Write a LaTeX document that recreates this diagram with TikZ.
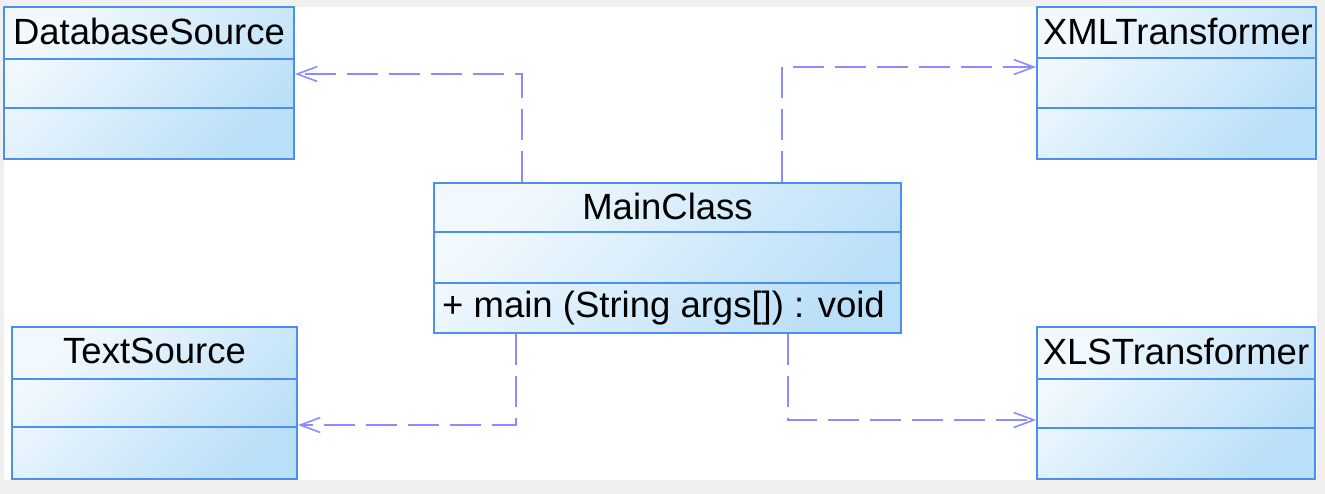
\documentclass[tikz,border=0pt]{standalone}
\usepackage{fontspec}
\setmainfont{Liberation Sans}
\usetikzlibrary{arrows.meta}
\definecolor{bordercol}{HTML}{4A90EC}
\definecolor{linecol}{HTML}{8C8CFF}
\definecolor{fillA}{HTML}{F2F9FE}
\definecolor{fillB}{HTML}{BADFF8}
\definecolor{bgcol}{HTML}{F0F0F0}
\tikzset{
  classbox/.style={rectangle, draw=bordercol, line width=2pt, inner sep=0pt,
    top color=fillA, bottom color=fillB, shading angle=45},
  divider/.style={draw=bordercol, line width=2pt},
  title/.style={font=\fontsize{36.5}{40}\selectfont, inner sep=0pt},
  oper/.style={font=\fontsize{36.5}{40}\selectfont, inner sep=0pt, anchor=base west},
  dep/.style={draw=linecol, line width=2pt, dash pattern=on 31pt off 11pt,
    -{Straight Barb[length=20pt,width=15pt,line width=1.6pt]}}
}
\begin{document}
\begin{tikzpicture}[x=1pt,y=-1pt]
\fill[bgcol] (0,0) rectangle (1325,494);
\fill[white] (4,7) rectangle (1317,480);
\useasboundingbox (0,0) rectangle (1325,494);

% class boxes
\node[classbox, minimum width=290pt, minimum height=152pt] (db) at (149,83) {};
\node[classbox, minimum width=279pt, minimum height=152pt] (xml) at (1176.5,83) {};
\node[classbox, minimum width=285pt, minimum height=152pt] (ts) at (154.5,403) {};
\node[classbox, minimum width=278pt, minimum height=152pt] (xls) at (1176,403) {};
\node[classbox, minimum width=467pt, minimum height=150pt] (main) at (667.5,258) {};

% dividers
\draw[divider] (db.west |- 0,59) -- (db.east |- 0,59);
\draw[divider] (db.west |- 0,108) -- (db.east |- 0,108);
\draw[divider] (xml.west |- 0,58) -- (xml.east |- 0,58);
\draw[divider] (xml.west |- 0,108) -- (xml.east |- 0,108);
\draw[divider] (ts.west |- 0,379) -- (ts.east |- 0,379);
\draw[divider] (ts.west |- 0,427) -- (ts.east |- 0,427);
\draw[divider] (xls.west |- 0,379) -- (xls.east |- 0,379);
\draw[divider] (xls.west |- 0,428) -- (xls.east |- 0,428);
\draw[divider] (main.west |- 0,232) -- (main.east |- 0,232);
\draw[divider] (main.west |- 0,283) -- (main.east |- 0,283);

% titles
\node[title] (dbt) at (149,31) {DatabaseSource};
\node[title] (xmlt) at (1178,31) {XMLTransformer};
\node[title] (tst) at (154.5,351) {TextSource};
\node[title] (xlst) at (1176,351) {XLSTransformer};
\node[title] (maint) at (667.5,206) {MainClass};
\node[oper] (mainop) at (442,317) {+ main (String args[]) : void};

% dependencies
\draw[dep] ([xshift=89pt]main.north west) |- ([yshift=9pt]db.east);
\draw[dep] ([xshift=349pt]main.north west) |- ([yshift=16pt]xml.west);
\draw[dep] ([xshift=83pt]main.south west) |- ([yshift=-22pt]ts.east);
\draw[dep] ([xshift=355pt]main.south west) |- ([yshift=-17pt]xls.west);
\end{tikzpicture}
\end{document}
